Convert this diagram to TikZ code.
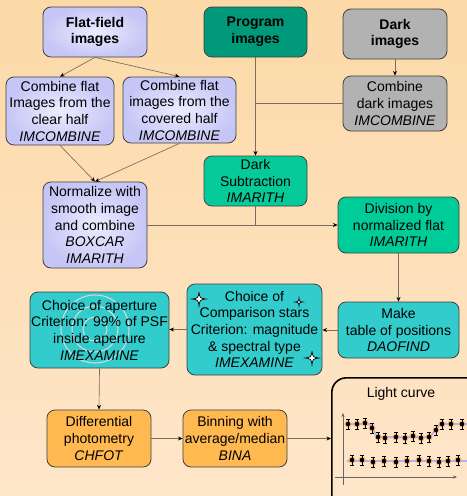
\documentclass[tikz,border=0pt]{standalone}
\usepackage{fontspec}
\setmainfont{Liberation Sans}
\usetikzlibrary{arrows.meta, positioning, patterns}

\definecolor{bgtop}{HTML}{FCD9A7}
\definecolor{bgbot}{HTML}{FEE6CA}
\definecolor{lavin}{HTML}{ECECFF}
\definecolor{lavout}{HTML}{C6C6F6}
\definecolor{progc}{HTML}{00997A}
\definecolor{darkc}{HTML}{B2B2B2}
\definecolor{greenc}{HTML}{00CC99}
\definecolor{cyanc}{HTML}{33CCCC}
\definecolor{orangec}{HTML}{FFB950}
\definecolor{linec}{HTML}{7C6C5C}
\definecolor{curvec}{HTML}{AAB4FF}
\definecolor{ringc}{HTML}{CFDADA}

\tikzset{
    sparkle/.pic={
        \draw[fill=white, line width=0.5pt] (0,-1) .. controls (0.12,-0.12) .. (1,0)
            .. controls (0.12,0.12) .. (0,1) .. controls (-0.12,0.12) .. (-1,0)
            .. controls (-0.12,-0.12) .. cycle;
    },
    errpt/.pic={
        \fill[orange!70, opacity=0.6] (0,0) circle (3.6);
        \draw[line width=0.6pt] (0,-5) -- (0,5) (-2,-5) -- (2,-5) (-2,5) -- (2,5);
        \fill (0,0) circle (2.3);
    }
}

\begin{document}
\begin{tikzpicture}[
        x=0.75pt, y=-0.75pt,
        box/.style={
            rectangle, draw=black!75, line width=0.6pt, rounded corners=6pt,
            align=center, inner sep=1pt, font=\fontsize{10.5}{12.5}\selectfont
        },
        flatbox/.style={box, shading=radial, inner color=lavin, outer color=lavout},
        progbox/.style={box, fill=progc, font=\fontsize{10.5}{12.5}\selectfont\bfseries},
        darkbox/.style={box, fill=darkc},
        greenbox/.style={box, fill=greenc},
        cyanbox/.style={box, fill=cyanc},
        orangebox/.style={box, fill=orangec},
        ring/.style={draw=ringc, line width=0.8pt},
        line/.style={draw=linec, line width=0.5pt},
        arrow/.style={line, -{Stealth[length=3.5pt, width=3pt, color=black]}}
    ]
        % Background
        \fill[top color=bgtop, bottom color=bgbot] (0,0) rectangle (467,496);
        \useasboundingbox (0,0) rectangle (467,496);

        % Input images
        \node[flatbox, font=\fontsize{10.5}{12.5}\selectfont\bfseries,
              minimum width=78pt, minimum height=37.5pt] (flat) at (95,32) {Flat-field\\images};
        \node[progbox, minimum width=77.25pt, minimum height=37.5pt] (prog) at (255.5,32) {Program\\images};
        \node[darkbox, font=\fontsize{10.5}{12.5}\selectfont\bfseries,
              minimum width=78pt, minimum height=37.5pt] (dark) at (395,34) {Dark\\images};

        % Flat and dark combination
        \node[flatbox, minimum width=81pt, minimum height=51pt] (clear) at (60,111)
            {Combine flat\\Images from the\\clear half\\\textit{IMCOMBINE}};
        \node[flatbox, minimum width=84.75pt, minimum height=49.5pt] (covered) at (179.5,110)
            {Combine flat\\images from the\\covered half\\\textit{IMCOMBINE}};
        \node[darkbox, minimum width=78pt, minimum height=41.25pt] (cdark) at (395,103.5)
            {Combine\\dark images\\\textit{IMCOMBINE}};

        % Reduction
        \node[greenbox, postaction={pattern=dots, pattern color=progc!70},
              minimum width=77.25pt, minimum height=37.5pt] (dsub) at (255.5,181)
            {Dark\\Subtraction\\\textit{IMARITH}};
        \node[flatbox, minimum width=78pt, minimum height=64.5pt] (norm) at (95,225)
            {Normalize with\\smooth image\\and combine\\\textit{BOXCAR}\\\textit{IMARITH}};
        \node[greenbox, minimum width=90.75pt, minimum height=42pt] (div) at (398.5,225)
            {Division by\\normalized flat\\\textit{IMARITH}};

        % Photometry
        \node[cyanbox, minimum width=90.75pt, minimum height=42pt] (table) at (398.5,330)
            {Make\\table of positions\\\textit{DAOFIND}};
        \node[cyanbox, minimum width=101.25pt, minimum height=68.25pt] (comp) at (254.5,329.5)
            {Choice of\\Comparison stars\\Criterion: magnitude\\\& spectral type\\\textit{IMEXAMINE}};
        \node[cyanbox, minimum width=104.25pt, minimum height=57pt] (aper) at (99.5,330) {};
        \coordinate (ringc0) at ([shift={(-4.5,-1)}]aper.center);
        \foreach \r in {9pt,17.25pt,25.5pt}
            \draw[ring] (ringc0) circle[radius=\r];
        \node[font=\fontsize{10.5}{12.5}\selectfont, align=center] (apertext) at (aper.center)
            {Choice of aperture\\Criterion: 99\% of PSF\\inside aperture\\\textit{IMEXAMINE}};
        \node[orangebox, minimum width=78pt, minimum height=42.75pt] (diff) at (99,438.5)
            {Differential\\photometry\\\textit{CHFOT}};
        \node[orangebox, minimum width=78pt, minimum height=42.75pt] (bin) at (235,438.5)
            {Binning with\\average/median\\\textit{BINA}};

        % Stars on the comparison box
        \pic[scale=7] at (199,299) {sparkle};
        \pic[scale=4] at (299,302) {sparkle};
        \pic[scale=7] at (312,358) {sparkle};

        % Light curve
        \node[draw=black, line width=1.2pt, rounded corners=11pt, anchor=north west,
              minimum width=120.75pt, minimum height=107.25pt] (lc) at (331,377) {};
        \node[font=\fontsize{10.5}{12.5}\selectfont] (lctitle) at (401,394) {Light curve};
        \draw[black!60, line width=0.5pt, -{Stealth[length=3pt, width=2.5pt]}] (343,485) -- (343,413);
        \draw[black!60, line width=0.5pt, -{Stealth[length=3pt, width=2.5pt]}] (335,477) -- (457,477);
        \draw[curvec, line width=1.5pt] (347,424) -- (370,424) -- (377,437) -- (430,437) -- (440,424) -- (467,424);
        \draw[curvec, line width=1.5pt] (347,461) -- (467,461);
        \foreach \px/\py in {348/424, 357/424, 365/423, 372/428, 378/437, 385/438, 396/437, 405/438,
                             413/436, 421/438, 429/437, 436/430, 442/424, 451/424, 462/424}
            \pic at (\px,\py) {errpt};
        \foreach \px/\py in {352/460, 362/460, 373/462, 384/461, 396/462, 407/461, 419/460, 429/461,
                             439/462, 448/461, 458/460}
            \pic at (\px,\py) {errpt};

        % Flow arrows
        \draw[arrow] (flat.south) -- (clear.north);
        \draw[arrow] (flat.south) -- (covered.north);
        \draw[arrow] (clear.south) -- (norm.north);
        \draw[arrow] (covered.south) -- (norm.north);
        \draw[arrow] (dark.south) -- (cdark.north);
        \draw[arrow] (prog.south) -- (dsub.north);
        \draw[line] (cdark.west) -- (cdark.west -| prog.south);
        \draw[arrow] (norm.east) -- (div.west);
        \draw[line] (dsub.south) -- (dsub.south |- div.west);
        \draw[arrow] (div.south) -- (table.north);
        \draw[arrow] (table.west) -- (table.west -| comp.east);
        \draw[arrow] (comp.west) -- (comp.west -| aper.east);
        \draw[arrow] (aper.south) -- (diff.north);
        \draw[arrow] (diff.east) -- (bin.west);
        \draw[arrow] (bin.east) -- (bin.east -| lc.west);

    \end{tikzpicture}
\end{document}
